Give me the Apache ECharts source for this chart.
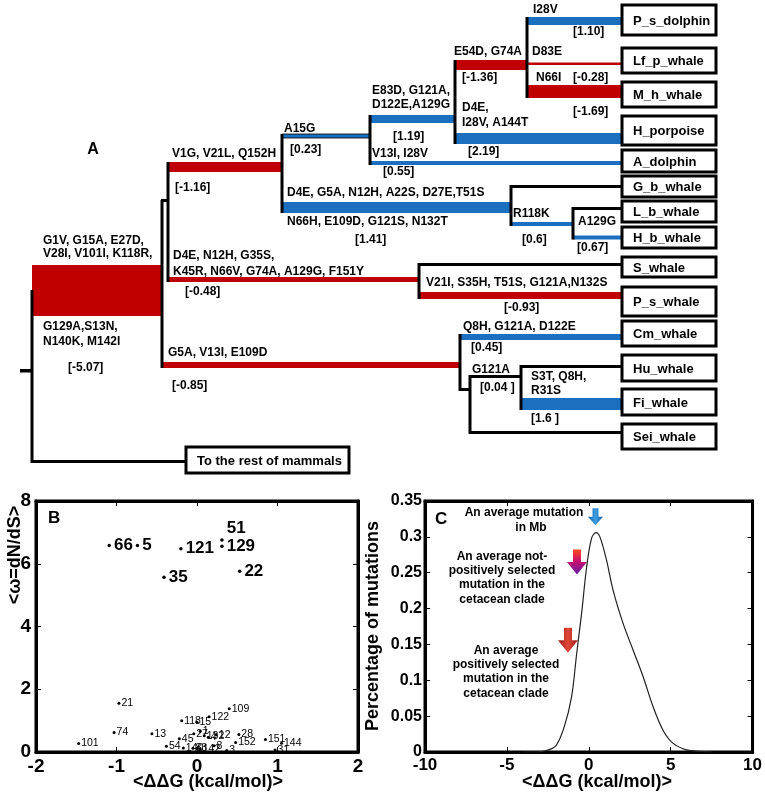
<!DOCTYPE html>
<html><head><meta charset="utf-8">
<script src="https://cdn.jsdelivr.net/npm/echarts/dist/echarts.min.js"></script>
<style>html,body{margin:0;padding:0;background:#fff}#c{width:765px;height:797px}</style>
</head><body><div id="c"></div>
<script>
const FF = '"Liberation Sans", Arial, sans-serif';
const RED = '#c00000', BLUE = '#1b6fbe';

// ---------- Panel A: tree (x = branch depth units, y = row units) ----------
const leafNames  = ['P_s_dolphin','Lf_p_whale','M_h_whale','H_porpoise','A_dolphin','G_b_whale','L_b_whale','H_b_whale','S_whale','P_s_whale','Cm_whale','Hu_whale','Fi_whale','Sei_whale'];
const leafTop    = [5, 48, 82, 116, 150, 176, 201, 227, 257, 287, 321, 355, 389, 424];
const leafBottom = [35, 73, 107, 145, 172, 197, 222, 248, 277, 316, 346, 381, 415, 449];
const leafStart = 622, leafEnd = 716;
const outName = 'To the rest of mammals';
const outBox = [186, 349, 447, 473];

// horizontal branches: [x0, x1, yTop, yBottom]
const branchX0 = [32, 20, 32, 168, 168, 161, 161, 282, 370, 370, 282, 455, 455, 527, 527, 527, 511, 511, 573, 573, 419, 419, 460, 460, 470, 470, 521, 521];
const branchX1 = [162, 32, 186, 282, 419, 460, 168, 370, 455, 622, 511, 527, 622, 622, 622, 622, 622, 573, 622, 622, 622, 622, 622, 470, 521, 622, 622, 622];
const branchY0 = [265, 369, 460, 162, 277, 362, 199, 134, 115, 161, 202, 60, 133, 17, 62.5, 85, 185, 222, 207, 235.5, 263, 292, 334, 388, 375, 431, 365, 398];
const branchY1 = [316, 372.5, 463, 172, 282, 368, 202, 138, 123, 165, 213, 70, 144, 25, 65, 98, 188, 226, 210, 239.5, 266, 299, 340, 391, 378, 434, 368, 410];
const branchKind = ['r','k','k','r','r','r','k','bt','b','b','b','r','b','b','r','r','k','b','k','b','k','r','b','k','k','k','k','b'];
// vertical connectors: [x, yTop, yBottom]
const vertX  = [32, 162, 168, 282, 370, 455, 527, 511, 573, 419, 460, 470, 521];
const vertY0 = [290, 200, 162, 134, 115, 60, 17, 185, 207, 263, 334, 375, 365];
const vertY1 = [463, 368, 282, 213, 165, 144, 98, 226, 239.5, 299, 391, 434, 410];

const treeText = ['G1V, G15A, E27D,','V28I, V101I, K118R,','G129A,S13N,','N140K, M142I','[-5.07]','V1G, V21L, Q152H','[-1.16]','D4E, N12H, G35S,','K45R, N66V, G74A, A129G, F151Y','[-0.48]','G5A, V13I, E109D','[-0.85]','A15G','[0.23]','E83D, G121A,','D122E,A129G','[1.19]','V13I, I28V','[0.55]','D4E, G5A, N12H, A22S, D27E,T51S','N66H, E109D, G121S, N132T','[1.41]','R118K','[0.6]','A129G','[0.67]','E54D, G74A','[-1.36]','D4E,','I28V, A144T','[2.19]','I28V','[1.10]','D83E','N66I','[-0.28]','[-1.69]','V21I, S35H, T51S, G121A,N132S','[-0.93]','Q8H, G121A, D122E','[0.45]','G121A','[0.04 ]','S3T, Q8H,','R31S','[1.6 ]'];
const treeTextX = [43,43,43,43,68,172,175,173,173,185,168,172,284,290,372,372,393,372,383,287,287,355,513,522,578,577,454,462,462,462,468,533,573,532,536,573,573,426,504,463,471,472,480,531,531,531];
const treeTextY = [241,254,327,342,368,154,188,256,272,292,353,386,129,150,91,105,137,154,172,193,222,240,214,240,222,248,52,78,108,123,152,10,32,52,78,78,112,283,308,327,348,370,388,377,391,419];

// ---------- Panel B: scatter ----------
const bigPos   = ['66','5','121','35','51','129','22'];
const bigDDG   = [-1.09, -0.74, -0.20, -0.41, 0.31, 0.31, 0.53];
const bigOmega = [6.58, 6.58, 6.48, 5.57, 6.76, 6.56, 5.76];
const smallPos   = ['101','74','21','13','54','45','140','83','142','8','118','15','122','27','1','132','4','12','109','28','3','152','151','144','31'];
const smallDDG   = [-1.47,-1.03,-0.97,-0.56,-0.38,-0.22,-0.17,-0.05,0.04,0.21,-0.19,0.00,0.15,-0.04,0.04,0.09,0.14,0.24,0.40,0.52,0.37,0.48,0.85,1.05,0.97];
const smallOmega = [0.27,0.62,1.55,0.58,0.18,0.42,0.13,0.12,0.10,0.20,1.00,0.95,1.12,0.58,0.66,0.52,0.47,0.55,1.38,0.56,0.05,0.30,0.40,0.28,0.06];

// ---------- Panel C: distribution ----------
const curveX = [-4,-3.2,-2.6,-2.0,-1.5,-1.05,-0.74,-0.44,-0.13,0.17,0.44,0.68,1.09,1.49,2.10,2.71,3.32,3.93,4.54,5.15,5.97,6.78,7.5];
const curveY = [0,0,0.002,0.009,0.035,0.077,0.137,0.193,0.258,0.298,0.306,0.300,0.267,0.225,0.179,0.142,0.105,0.063,0.030,0.012,0.003,0.001,0];
const arrowX = [0.41, -0.72, -1.27];
const arrowY = [0.328, 0.265, 0.156];

const chart = echarts.init(document.getElementById('c'), null, {renderer:'canvas'});

const kindStyle = {
  r:{fill:RED}, b:{fill:BLUE}, k:{fill:'#000'}, bt:{fill:BLUE, stroke:'#000', lineWidth:0.8}
};
const branchData = branchX0.map((x,i)=>[x, branchX1[i], branchY0[i], branchY1[i]]);
const vertData = vertX.map((x,i)=>[x, vertY0[i], vertY1[i]]);
const leafData = leafNames.map((n,i)=>[leafStart, leafEnd, leafTop[i], leafBottom[i]]);
leafData.push([outBox[0], outBox[1], outBox[2], outBox[3]]);
const leafLabel = leafNames.concat([outName]);
const textData = treeText.map((t,i)=>[treeTextX[i], treeTextY[i]]);

function axisBase(gi, min, max, interval, pos, showLabel, fontSize){
  return {
    gridIndex: gi, type:'value', min, max, interval, position: pos,
    axisLine:{show:true, onZero:false, lineStyle:{color:'#000', width:3}},
    axisTick:{show:true, inside:true, length:5, lineStyle:{color:'#000', width:1}},
    axisLabel:{show:showLabel, color:'#000', fontFamily:FF, fontWeight:'bold', fontSize:fontSize, margin:5},
    splitLine:{show:false}
  };
}
const arrowPath = 'path://M3,0 L7,0 L7,6 L10,6 L5,12 L0,6 L3,6 Z';

const option = {
  animation:false,
  backgroundColor:'#fff',
  grid:[
    {left:0, top:0, width:765, height:480, show:false},
    {left:36, top:501, width:322, height:251, show:true, borderColor:'#000', borderWidth:3, backgroundColor:'#fff'},
    {left:425, top:501, width:328, height:251, show:true, borderColor:'#000', borderWidth:3, backgroundColor:'#fff'}
  ],
  xAxis:[
    {gridIndex:0, type:'value', min:0, max:765, show:false},
    axisBase(1,-2,2,1,'bottom',true,19),
    axisBase(1,-2,2,1,'top',false,19),
    axisBase(2,-10,10,5,'bottom',true,17),
    axisBase(2,-10,10,5,'top',false,17)
  ],
  yAxis:[
    {gridIndex:0, type:'value', min:0, max:480, inverse:true, show:false},
    axisBase(1,0,8,2,'left',true,19),
    axisBase(1,0,8,2,'right',false,19),
    Object.assign(axisBase(2,0,0.35,0.05,'left',true,16),{axisLabel:{show:true,color:'#000',fontFamily:FF,fontWeight:'bold',fontSize:16,margin:3,formatter:v=>String(+v.toFixed(2))}}),
    axisBase(2,0,0.35,0.05,'right',false,16)
  ],
  series:[
    { type:'custom', xAxisIndex:0, yAxisIndex:0, clip:false, silent:true, data: branchData,
      renderItem:(p,api)=>{
        const a = api.coord([api.value(0), api.value(2)]);
        const b = api.coord([api.value(1), api.value(3)]);
        return {type:'rect', shape:{x:a[0], y:a[1], width:b[0]-a[0], height:b[1]-a[1]}, style:Object.assign({}, kindStyle[branchKind[p.dataIndex]])};
      }},
    { type:'custom', xAxisIndex:0, yAxisIndex:0, clip:false, silent:true, data: vertData,
      renderItem:(p,api)=>{
        const a = api.coord([api.value(0), api.value(1)]);
        const b = api.coord([api.value(0), api.value(2)]);
        return {type:'line', shape:{x1:a[0], y1:a[1], x2:b[0], y2:b[1]}, style:{stroke:'#000', lineWidth:3}};
      }},
    { type:'custom', xAxisIndex:0, yAxisIndex:0, clip:false, silent:true, data: leafData,
      renderItem:(p,api)=>{
        const a = api.coord([api.value(0), api.value(2)]);
        const b = api.coord([api.value(1), api.value(3)]);
        return {type:'group', children:[
          {type:'rect', shape:{x:a[0], y:a[1], width:b[0]-a[0], height:b[1]-a[1]}, style:{fill:'#fff', stroke:'#000', lineWidth:3}},
          {type:'text', x:a[0]+11, y:(a[1]+b[1])/2+1, style:{text:leafLabel[p.dataIndex], fill:'#000', font:'bold 13px '+FF, verticalAlign:'middle', align:'left'}}
        ]};
      }},
    { type:'custom', xAxisIndex:0, yAxisIndex:0, clip:false, silent:true, data: textData,
      renderItem:(p,api)=>{
        const a = api.coord([api.value(0), api.value(1)]);
        return {type:'text', x:a[0], y:a[1], style:{text:treeText[p.dataIndex], fill:'#000', font:'bold 12px '+FF, verticalAlign:'middle', align:'left'}};
      }},
    { type:'scatter', xAxisIndex:1, yAxisIndex:1, symbolSize:3.5, itemStyle:{color:'#000', opacity:1},
      data: bigDDG.map((x,i)=>({value:[x,bigOmega[i]], label:{offset: bigPos[i]==='51'?[0,-12]:[0,0]}})),
      label:{show:true, position:'right', distance:3, formatter:p=>bigPos[p.dataIndex], color:'#000', opacity:1, fontFamily:FF, fontWeight:'bold', fontSize:17}},
    { type:'scatter', xAxisIndex:1, yAxisIndex:1, symbolSize:3, itemStyle:{color:'#000', opacity:1},
      data: smallDDG.map((x,i)=>[x,smallOmega[i]]),
      label:{show:true, position:'right', distance:1, formatter:p=>smallPos[p.dataIndex], color:'#000', opacity:1, fontFamily:FF, fontSize:10.5}},
    { type:'line', xAxisIndex:3, yAxisIndex:3, smooth:0.35, showSymbol:false, lineStyle:{color:'#222', width:1.2},
      data: curveX.map((x,i)=>[x,curveY[i]])},
    { type:'scatter', xAxisIndex:3, yAxisIndex:3, symbol:arrowPath,
      data:[
        {value:[arrowX[0],arrowY[0]], symbolSize:[15,17], itemStyle:{opacity:1, color:new echarts.graphic.LinearGradient(0,0,1,0,[{offset:0,color:'#1460a8'},{offset:0.5,color:'#3c9be0'},{offset:1,color:'#1460a8'}])}},
        {value:[arrowX[1],arrowY[1]], symbolSize:[20,25], itemStyle:{opacity:1, color:new echarts.graphic.LinearGradient(0,0,0,1,[{offset:0,color:'#ff4a1a'},{offset:0.45,color:'#c8106a'},{offset:1,color:'#6a1aa8'}])}},
        {value:[arrowX[2],arrowY[2]], symbolSize:[20,25], itemStyle:{opacity:1, color:new echarts.graphic.LinearGradient(0,0,1,0,[{offset:0,color:'#9c1c1c'},{offset:0.5,color:'#e0483a'},{offset:1,color:'#9c1c1c'}])}}
      ]}
  ],
  graphic:[
    {type:'text', x:93, y:150, style:{text:'A', font:'bold 16px '+FF, fill:'#000', align:'center', verticalAlign:'middle'}},
    {type:'text', x:48, y:518, style:{text:'B', font:'bold 17px '+FF, fill:'#000', align:'left', verticalAlign:'middle'}},
    {type:'text', x:208, y:782, style:{text:'<ΔΔG (kcal/mol)>', font:'bold 18px '+FF, fill:'#000', align:'center', verticalAlign:'middle'}},
    {type:'text', x:15, y:555, rotation:Math.PI/2, style:{text:'<ω=dN/dS>', font:'bold 18px '+FF, fill:'#000', align:'center', verticalAlign:'middle'}},
    {type:'text', x:435, y:519, style:{text:'C', font:'bold 17px '+FF, fill:'#000', align:'left', verticalAlign:'middle'}},
    {type:'text', x:597, y:782, style:{text:'<ΔΔG (kcal/mol)>', font:'bold 18px '+FF, fill:'#000', align:'center', verticalAlign:'middle'}},
    {type:'text', x:373, y:626, rotation:Math.PI/2, style:{text:'Percentage of mutations', font:'bold 18px '+FF, fill:'#000', align:'center', verticalAlign:'middle'}},
    {type:'text', x:524, y:513, style:{text:'An average mutation', font:'bold 12px '+FF, fill:'#000', align:'center', verticalAlign:'middle'}},
    {type:'text', x:531, y:528, style:{text:'in Mb', font:'bold 12px '+FF, fill:'#000', align:'center', verticalAlign:'middle'}},
    {type:'text', x:502, y:578, style:{text:'An average not-\npositively selected\nmutation in the\ncetacean clade', font:'bold 12px '+FF, fill:'#000', align:'center', verticalAlign:'middle', lineHeight:14.3}},
    {type:'text', x:506, y:672, style:{text:'An average\npositively selected\nmutation in the\ncetacean clade', font:'bold 12px '+FF, fill:'#000', align:'center', verticalAlign:'middle', lineHeight:14.3}}
  ]
};
chart.setOption(option);
</script></body></html>
